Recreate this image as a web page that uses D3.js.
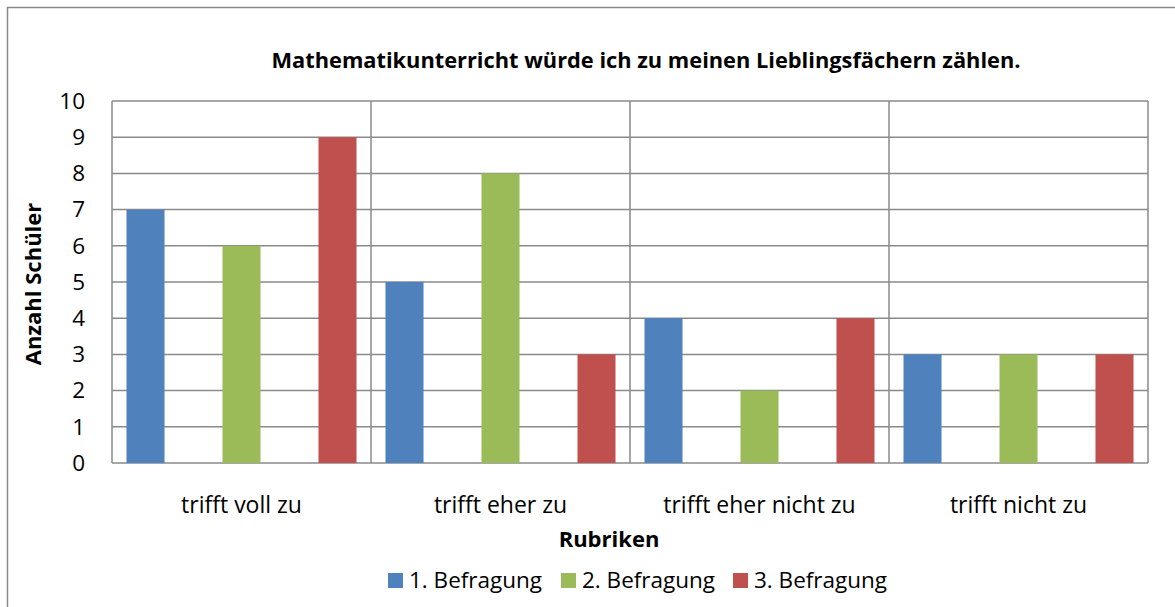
<!DOCTYPE html>
<html>
<head>
<meta charset="utf-8">
<script src="https://cdn.jsdelivr.net/npm/d3@7"></script>
<style>
  body { margin: 0; background: #fff; }
  svg text { font-family: "Open Sans", "Noto Sans", sans-serif; fill: #000; }
</style>
</head>
<body>
<svg id="chart" width="1175" height="607"></svg>
<script>
// DATA
var categories = ["trifft voll zu", "trifft eher zu", "trifft eher nicht zu", "trifft nicht zu"];
var seriesNames = ["1. Befragung", "2. Befragung", "3. Befragung"];
var befragung1 = [7, 5, 4, 3];
var befragung2 = [6, 8, 2, 3];
var befragung3 = [9, 3, 4, 3];
var yTicks = [0, 1, 2, 3, 4, 5, 6, 7, 8, 9, 10];
var colours = ["#4F81BD", "#9BBB59", "#C0504D"];

var allSeries = [befragung1, befragung2, befragung3];

var svg = d3.select("#chart");

// outer frame (top + left visible)
svg.append("rect")
  .attr("x", 7.5).attr("y", 7.5)
  .attr("width", 1180).attr("height", 620)
  .attr("fill", "none").attr("stroke", "#898989").attr("stroke-width", 1.5);

var margin = {left: 112, top: 101, right: 1148, bottom: 463};

var x = d3.scaleBand().domain(categories).range([margin.left, margin.right]);
var xInner = d3.scaleBand().domain(d3.range(seriesNames.length))
  .range([0, x.bandwidth()]).paddingInner(0.604).paddingOuter(0.151);
var y = d3.scaleLinear().domain([0, 10]).range([margin.bottom, margin.top]);

// horizontal grid
svg.append("g").selectAll("line").data(yTicks).enter().append("line")
  .attr("x1", margin.left).attr("x2", margin.right)
  .attr("y1", function(d){ return y(d); }).attr("y2", function(d){ return y(d); })
  .attr("stroke", "#8a8a8a").attr("stroke-width", 1.5);

// vertical separators
var seps = categories.map(function(c){ return x(c); }).concat([margin.right]);
svg.append("g").selectAll("line").data(seps).enter().append("line")
  .attr("x1", function(d){ return d; }).attr("x2", function(d){ return d; })
  .attr("y1", margin.top).attr("y2", margin.bottom)
  .attr("stroke", "#8a8a8a").attr("stroke-width", 1.5);

// bars
allSeries.forEach(function(vals, si){
  svg.append("g").selectAll("rect").data(vals).enter().append("rect")
    .attr("x", function(d, i){ return x(categories[i]) + xInner(si); })
    .attr("width", xInner.bandwidth())
    .attr("y", function(d){ return y(d); })
    .attr("height", function(d){ return y(0) - y(d); })
    .attr("fill", colours[si]);
});

// y axis
var yAxis = svg.append("g")
  .attr("transform", "translate(" + margin.left + ",0)")
  .call(d3.axisLeft(y).tickValues(yTicks).tickSize(0).tickPadding(27));
yAxis.select(".domain").remove();
yAxis.selectAll("text").style("font-size", "22.5px").style("font-family", "\"Open Sans\", sans-serif").attr("fill", "#000");

// x axis labels
var xAxis = svg.append("g")
  .attr("transform", "translate(0," + margin.bottom + ")")
  .call(d3.axisBottom(x).tickSize(0).tickPadding(30));
xAxis.select(".domain").remove();
xAxis.selectAll("text").attr("dy", null).attr("y", 50)
  .style("font-size", "23px").style("font-family", "\"Open Sans\", sans-serif").attr("fill", "#000");

// title
svg.append("text")
  .attr("x", 646).attr("y", 68)
  .attr("text-anchor", "middle")
  .style("font-size", "21.8px").style("font-weight", "bold")
  .text("Mathematikunterricht würde ich zu meinen Lieblingsfächern zählen.");

// axis titles
svg.append("text")
  .attr("x", 609).attr("y", 547)
  .attr("text-anchor", "middle")
  .style("font-size", "22px").style("font-weight", "bold")
  .text("Rubriken");

svg.append("text")
  .attr("transform", "translate(41,284) rotate(-90)")
  .attr("text-anchor", "middle")
  .style("font-size", "22px").style("font-weight", "bold")
  .text("Anzahl Schüler");

// legend
var legX = [388, 561, 733];
var leg = svg.append("g").selectAll("g").data(seriesNames).enter().append("g")
  .attr("transform", function(d, i){ return "translate(" + legX[i] + ",573)"; });
leg.append("rect").attr("width", 15).attr("height", 15)
  .attr("fill", function(d, i){ return colours[i]; });
leg.append("text").attr("x", 21).attr("y", 15)
  .style("font-size", "22.5px")
  .text(function(d){ return d; });
</script>
</body>
</html>
